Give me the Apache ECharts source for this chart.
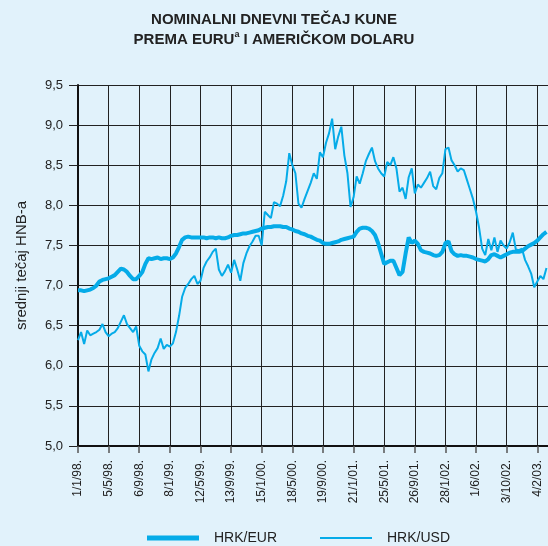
<!DOCTYPE html>
<html><head><meta charset="utf-8">
<script src="https://cdn.jsdelivr.net/npm/echarts@6/dist/echarts.min.js"></script>
<style>html,body{margin:0;padding:0;background:#e1f2fb;}#c{width:548px;height:546px;}</style>
</head><body><div id="c"></div>
<script>
var tickLabels = ['1/1/98.','5/5/98.','6/9/98.','8/1/99.','12/5/99.','13/9/99.','15/1/00.','18/5/00.','19/9/00.','21/1/01.','25/5/01.','26/9/01.','28/1/02.','1/6/02.','3/10/02.','4/2/03.'];
var yTicks = ['5,0','5,5','6,0','6,5','7,0','7,5','8,0','8,5','9,0','9,5'];
// samples: 10 per tick interval (each tick interval = 124 days)
var hrkEur = [6.94,6.94,6.93,6.94,6.95,6.97,7.00,7.05,7.07,7.08,
7.09,7.11,7.13,7.17,7.21,7.20,7.17,7.12,7.08,7.08,
7.12,7.17,7.27,7.34,7.33,7.34,7.35,7.33,7.34,7.34,
7.33,7.35,7.40,7.48,7.57,7.60,7.61,7.60,7.60,7.60,
7.60,7.60,7.59,7.60,7.60,7.59,7.60,7.59,7.59,7.60,
7.62,7.63,7.63,7.64,7.65,7.65,7.66,7.67,7.68,7.69,
7.71,7.72,7.73,7.73,7.74,7.74,7.74,7.73,7.73,7.71,
7.70,7.68,7.67,7.65,7.64,7.62,7.61,7.59,7.57,7.56,
7.53,7.52,7.52,7.53,7.54,7.55,7.57,7.58,7.59,7.60,
7.61,7.67,7.71,7.72,7.72,7.71,7.68,7.63,7.53,7.40,
7.27,7.29,7.31,7.31,7.22,7.13,7.17,7.40,7.60,7.53,
7.56,7.52,7.44,7.42,7.41,7.40,7.38,7.37,7.38,7.42,
7.53,7.55,7.43,7.39,7.37,7.38,7.37,7.37,7.36,7.35,
7.33,7.32,7.31,7.30,7.33,7.38,7.39,7.37,7.35,7.37,
7.39,7.41,7.42,7.42,7.42,7.43,7.46,7.49,7.51,7.53,
7.56,7.60,7.64,7.67];
var hrkUsd = [6.32,6.42,6.27,6.44,6.38,6.40,6.42,6.45,6.52,6.42,
6.37,6.40,6.42,6.47,6.55,6.63,6.52,6.47,6.42,6.49,
6.25,6.18,6.14,5.93,6.08,6.16,6.22,6.34,6.21,6.26,
6.24,6.28,6.42,6.62,6.86,6.97,7.02,7.08,7.12,7.02,
7.06,7.22,7.30,7.35,7.42,7.46,7.20,7.12,7.18,7.26,
7.16,7.32,7.20,7.06,7.28,7.40,7.49,7.55,7.62,7.62,
7.50,7.92,7.88,7.84,8.04,8.02,7.99,8.12,8.30,8.65,
8.50,8.40,8.02,7.97,8.08,8.18,8.28,8.40,8.33,8.66,
8.60,8.78,8.90,9.08,8.70,8.86,8.98,8.62,8.40,7.98,
8.10,8.36,8.27,8.40,8.55,8.64,8.72,8.55,8.46,8.40,
8.36,8.54,8.50,8.60,8.46,8.17,8.22,8.08,8.35,8.46,
8.15,8.26,8.22,8.28,8.34,8.42,8.24,8.20,8.34,8.40,
8.70,8.72,8.56,8.50,8.42,8.46,8.44,8.32,8.20,8.08,
7.92,7.72,7.46,7.38,7.58,7.44,7.60,7.42,7.56,7.50,
7.46,7.54,7.66,7.45,7.44,7.46,7.32,7.24,7.15,6.98,
7.05,7.12,7.08,7.22];
var seriesNames = ['HRK/EUR','HRK/USD'];
var lineColor = '#05abe8';

var legendText = { fontFamily: 'Liberation Sans', fontSize: 14, color: '#222', padding: [0,0,0,10] };
var chart = echarts.init(document.getElementById('c'), null, {renderer:'canvas'});
chart.setOption({
  backgroundColor: '#e1f2fb',
  animation: false,
  title: {
    text: 'NOMINALNI DNEVNI TEČAJ KUNE\nPREMA EURU{sup|a} I AMERIČKOM DOLARU',
    left: 'center', top: 5,
    textStyle: {
      fontFamily: 'Liberation Sans', fontSize: 15, fontWeight: 'bold', color: '#222', lineHeight: 20,
      rich: { sup: { fontSize: 9, fontWeight: 'bold', verticalAlign: 'top', color: '#222', padding:[0,0,9,0] } }
    }
  },
  legend: [
    { top: 526, left: 142, itemWidth: 52, itemHeight: 5, icon: 'rect',
      textStyle: legendText, data: [seriesNames[0]] },
    { top: 526, left: 315, itemWidth: 52, itemHeight: 2, icon: 'rect',
      textStyle: legendText, data: [seriesNames[1]] }
  ],
  grid: { left: 78, right: 0, top: 85, bottom: 100 },
  xAxis: {
    type: 'value', min: 0, max: 153.5, interval: 10,
    axisLine: { show: true, lineStyle: { color: '#111', width: 2 } },
    axisTick: { show: true, length: 7, lineStyle: { color: '#555', width: 1.5 } },
    splitLine: { show: true, lineStyle: { color: '#222', width: 1 } },
    axisLabel: {
      rotate: 90, margin: 14, fontFamily: 'Liberation Sans', fontSize: 12, color: '#222',
      showMaxLabel: false,
      formatter: function (v) { var k = Math.round(v / 10); return tickLabels[k] || ''; }
    }
  },
  yAxis: {
    type: 'value', min: 5, max: 9.5, interval: 0.5,
    name: 'srednji tečaj HNB-a', nameLocation: 'middle', nameGap: 49,
    nameTextStyle: { fontFamily: 'Liberation Sans', fontSize: 15, color: '#222' },
    axisLine: { show: true, lineStyle: { color: '#111', width: 2 } },
    axisTick: { show: true, length: 9, lineStyle: { color: '#222', width: 1 } },
    splitLine: { show: true, lineStyle: { color: '#222', width: 1 } },
    axisLabel: {
      margin: 15, fontFamily: 'Liberation Sans', fontSize: 13, color: '#222',
      formatter: function (v) { return yTicks[Math.round((v - 5) / 0.5)]; }
    }
  },
  series: [
    { name: seriesNames[0], type: 'line', symbol: 'none', z: 3,
      data: hrkEur.map(function (v, i) { return [i, v]; }),
      lineStyle: { color: lineColor, width: 4 }, itemStyle: { color: lineColor } },
    { name: seriesNames[1], type: 'line', symbol: 'none', z: 4,
      data: hrkUsd.map(function (v, i) { return [i, v]; }),
      lineStyle: { color: lineColor, width: 2 }, itemStyle: { color: lineColor } }
  ]
});
</script></body></html>
